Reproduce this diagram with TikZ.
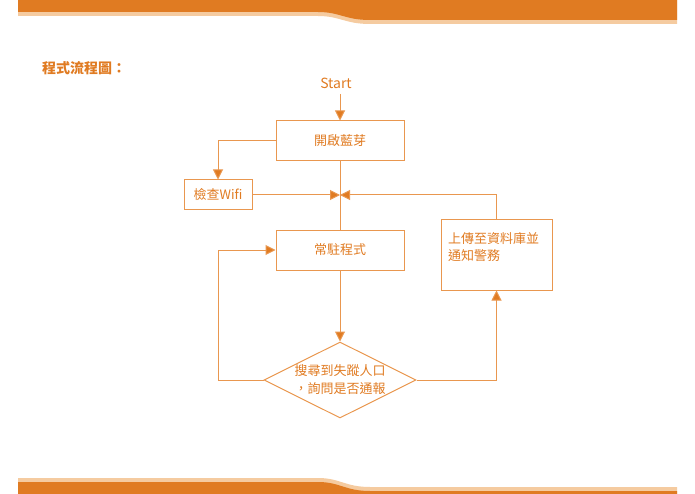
\documentclass[tikz,border=0pt]{standalone}
\usepackage{fontspec}
\setmainfont{Noto Sans CJK TC}
\usetikzlibrary{shapes.geometric,arrows.meta}
\definecolor{org}{HTML}{E07B22}
\definecolor{lorg}{HTML}{F5CBA0}
\definecolor{lnc}{HTML}{E9974F}
\begin{document}
\begin{tikzpicture}[x=1pt,y=-1pt,
 box/.style={draw=lnc,line width=1pt,minimum width=128pt,minimum height=40pt,font=\fontsize{13}{15}\selectfont,text=org},
 ln/.style={draw=lnc,line width=1pt},
 ar/.style={ln,-{Triangle[length=10pt,width=10pt,fill=org]}},
 txt/.style={text=org,font=\fontsize{13}{15}\selectfont}]
\useasboundingbox (0,0) rectangle (695,494);
% banners
\fill[lorg] (18,0) -- (677,0) -- (677,24) -- (370,24) .. controls (345,24) and (340,16) .. (318,16) -- (18,16) -- cycle;
\fill[org] (18,0) -- (677,0) -- (677,20) -- (370,20) .. controls (345,20) and (340,12) .. (318,12) -- (18,12) -- cycle;
\fill[lorg] (18,478) -- (318,478) .. controls (340,478) and (345,487) .. (370,487) -- (677,487) -- (677,494) -- (18,494) -- cycle;
\fill[org] (18,482) -- (318,482) .. controls (340,482) and (345,491) .. (370,491) -- (677,491) -- (677,494) -- (18,494) -- cycle;
\node[text=org,font=\bfseries\fontsize{14}{16}\selectfont,anchor=west,inner sep=0pt] (title) at (42,68) {程式流程圖：};
\node[txt,font=\fontsize{14}{16}\selectfont] (start) at (336,83) {Start};
\node[box] (b1) at (340,141) {開啟藍芽};
\node[box,minimum width=68pt,minimum height=30pt,inner sep=0pt] (wifi) at (218,195) {檢查Wifi};
\node[box] (b2) at (340,250) {常駐程式};
\node[draw=lnc,line width=1pt,minimum width=111pt,minimum height=70pt] (b3) at (496.5,255) {};
\node[txt,anchor=north west,align=left,font=\fontsize{13}{17}\selectfont,inner sep=0pt] (t3) at (448,232) {上傳至資料庫並\\通知警務};
\node[draw=lnc,line width=1pt,diamond,aspect=2,minimum width=152pt,minimum height=76pt,inner sep=0pt,align=center,txt,font=\fontsize{13}{18}\selectfont] (d) at (340,380) {搜尋到失蹤人口\\，詢問是否通報};
\coordinate (m) at (340,195);
\draw[ar] (340,94) -- (b1.north);
\draw[ln] (b1.south) -- (b2.north);
\draw[ar] (b1.west) -| (wifi.north);
\draw[ar] (wifi.east) -- (m);
\draw[ar] (b3.north) |- (m);
\draw[ar] (b2.south) -- (d.north);
\draw[ar] (d.west) -- (218,380) |- (b2.west);
\draw[ar] (d.east) -| (b3.south);
\end{tikzpicture}
\end{document}
